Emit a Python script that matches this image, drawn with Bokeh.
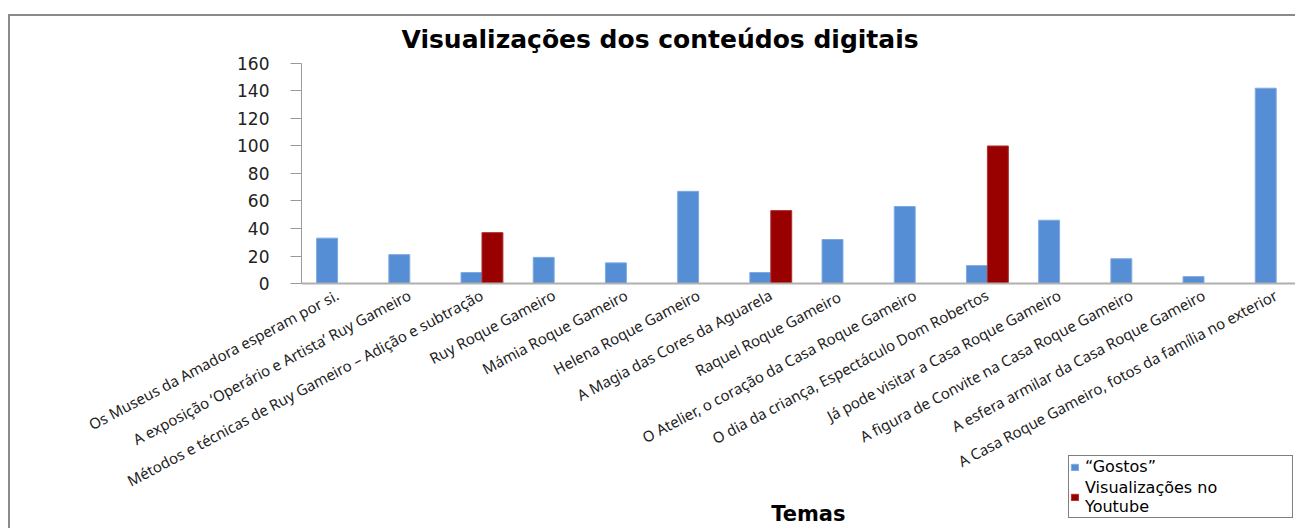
import math
from bokeh.plotting import figure
from bokeh.models import Range1d, FixedTicker, Legend, LegendItem, ColumnDataSource, Label
from bokeh.transform import dodge
from bokeh.embed import file_html
from bokeh.resources import INLINE

categories = [
    "Os Museus da Amadora esperam por si.",
    "A exposição ‘Operário e Artista’ Ruy Gameiro",
    "Métodos e técnicas de Ruy Gameiro – Adição e subtração",
    "Ruy Roque Gameiro",
    "Mámia Roque Gameiro",
    "Helena Roque Gameiro",
    "A Magia das Cores da Aguarela",
    "Raquel  Roque Gameiro",
    "O Atelier, o coração da Casa Roque Gameiro",
    "O dia da criança, Espectáculo Dom Robertos",
    "Já pode visitar a Casa Roque Gameiro",
    "A figura de Convite na Casa Roque Gameiro",
    "A esfera armilar da Casa Roque Gameiro",
    "A Casa Roque Gameiro, fotos da família no exterior",
]
gostos = [33, 21, 8, 19, 15, 67, 8, 32, 56, 13, 46, 18, 5, 142]
nan = float("nan")
youtube = [nan, nan, 37, nan, nan, nan, 53, nan, nan, 100, nan, nan, nan, nan]
y_ticks = [0, 20, 40, 60, 80, 100, 120, 140, 160]

title_text = "Visualizações dos conteúdos digitais"
x_title = "Temas"
series_names = ["“Gostos”", "Visualizações no\nYoutube"]

src = ColumnDataSource(dict(x=list(range(len(categories))), gostos=gostos, youtube=youtube))

X_END = 13.295
p = figure(width=1287, height=514, output_backend="svg", toolbar_location=None,
           x_range=Range1d(-4.53, X_END), y_range=Range1d(-179.6, 165.8),
           min_border_left=0, min_border_right=0, min_border_top=39, min_border_bottom=0)
p.styles = {"border-top": "2px solid #8a8a8a", "border-left": "2px solid #8a8a8a",
            "margin-top": "14px", "margin-left": "8px"}
p.outline_line_color = None
p.grid.visible = False
p.background_fill_color = "white"
p.border_fill_color = "white"

r1 = p.vbar(x=dodge("x", -0.145, range=p.x_range), top="gostos", width=0.29, source=src,
            fill_color="#558ed5", line_color="#7fa9e0", line_width=1)
r2 = p.vbar(x=dodge("x", 0.145, range=p.x_range), top="youtube", width=0.29, source=src,
            fill_color="#990000", line_color="#b03030", line_width=1)

p.title.text = title_text
p.title.text_font = "DejaVu Sans"
p.title.text_font_size = "25px"
p.title.text_font_style = "bold"
p.title.align = "left"
p.title.offset = 391
p.title.standoff = 4
p.title.text_color = "black"

yax = p.yaxis[0]
yax.fixed_location = -0.5
yax.ticker = FixedTicker(ticks=y_ticks)
yax.bounds = (0, 160)
yax.axis_line_color = "#9a9a9a"
yax.major_tick_line_color = "#9a9a9a"
yax.major_tick_out = 11
yax.major_tick_in = 0
yax.minor_tick_line_color = None
yax.major_label_text_font = "DejaVu Sans"
yax.major_label_text_font_size = "17px"
yax.major_label_text_color = "#222222"
yax.major_label_standoff = 21

xax = p.xaxis[0]
xax.fixed_location = 0
xax.bounds = (-0.5, X_END)
xax.ticker = FixedTicker(ticks=list(range(len(categories))))
xax.major_label_overrides = {i: c for i, c in enumerate(categories)}
xax.major_label_orientation = math.radians(28)
xax.axis_line_color = "#b0b0b0"
xax.axis_line_width = 2
xax.major_tick_line_color = None
xax.minor_tick_line_color = None
xax.major_label_text_font = "Noto Sans"
xax.major_label_text_font_size = "15px"
xax.major_label_text_color = "#222222"
xax.major_label_standoff = 4

p.add_layout(Label(x=6.52, y=-167.3, text=x_title, text_align="center", text_baseline="middle",
                   text_font="DejaVu Sans", text_font_size="21px", text_font_style="bold",
                   text_color="black"))

legend = Legend(items=[LegendItem(label=series_names[0], renderers=[r1]),
                       LegendItem(label=series_names[1], renderers=[r2])],
                location=(1058, 12))
legend.border_line_color = "black"
legend.border_line_width = 1
legend.background_fill_color = "white"
legend.background_fill_alpha = 1
legend.label_text_font = "DejaVu Sans"
legend.label_text_font_size = "16px"
legend.label_text_color = "black"
legend.label_width = 206
legend.label_height = 18
legend.glyph_width = 9
legend.glyph_height = 8
legend.label_standoff = 6
legend.padding = 1
legend.spacing = 2
legend.margin = 0
p.add_layout(legend, "center")

open("out.html", "w").write(file_html(p, INLINE))
